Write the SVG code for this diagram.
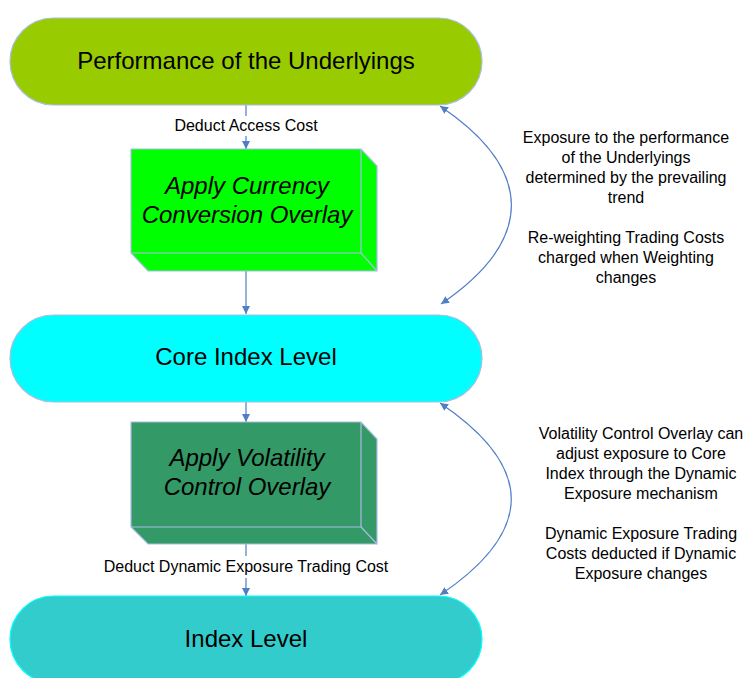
<svg xmlns="http://www.w3.org/2000/svg" width="748" height="678" viewBox="0 0 748 678">
<defs>
<style>
.t{font-family:"Liberation Sans",Arial,sans-serif;fill:#000;text-anchor:middle}
.big{font-size:24px}
.it{font-size:24px;font-style:italic}
.sm{font-size:16px}
.node{stroke:#a9bde3;stroke-width:1.2}
.conn{fill:none;stroke:#4f7ec4;stroke-width:1.2}
</style>
<marker id="ah" viewBox="0 0 10 10" refX="10" refY="5" markerWidth="8" markerHeight="8" markerUnits="userSpaceOnUse" orient="auto-start-reverse">
<path d="M0,0 L10,5 L0,10 Z" fill="#4f7ec4"/>
</marker>
</defs>
<rect width="748" height="678" fill="#fff"/>
<g id="connectors">
<line class="conn" x1="246" y1="105" x2="246" y2="116"/>
<line class="conn" x1="246" y1="136" x2="246" y2="149" marker-end="url(#ah)"/>
<line class="conn" x1="246" y1="271" x2="246" y2="314" marker-end="url(#ah)"/>
<line class="conn" x1="246" y1="402" x2="246" y2="422" marker-end="url(#ah)"/>
<line class="conn" x1="246" y1="544" x2="246" y2="556"/>
<line class="conn" x1="246" y1="578" x2="246" y2="596" marker-end="url(#ah)"/>
<path class="conn" d="M440,106 C535,170 535,240 441,304" marker-start="url(#ah)" marker-end="url(#ah)"/>
<path class="conn" d="M440,403 C535,467 535,531 440,595" marker-start="url(#ah)" marker-end="url(#ah)"/>
<text class="t sm" x="246" y="131">Deduct Access Cost</text>
<text class="t sm" x="246" y="572">Deduct Dynamic Exposure Trading Cost</text>
</g>
<g id="performance">
<rect class="node" x="10" y="18" width="472" height="87" rx="43.5" fill="#99cc00"/>
<text class="t big" x="246" y="69">Performance of the Underlyings</text>
</g>
<g id="currency">
<polygon class="node" points="131,149 361,149 377,166 377,271 148,271 131,253" fill="#00ff00"/>
<polyline class="node" points="131,253 361,253 361,149" fill="none"/>
<line class="node" x1="361" y1="253" x2="377" y2="271"/>
<text class="t it" x="247" y="194">Apply Currency</text>
<text class="t it" x="247" y="223">Conversion Overlay</text>
</g>
<g id="core">
<rect class="node" x="10" y="315" width="472" height="87" rx="43.5" fill="#00ffff" stroke="#c3c6ea"/>
<text class="t big" x="246" y="365">Core Index Level</text>
</g>
<g id="volatility">
<polygon class="node" points="131,422 361,422 377,439 377,544 148,544 131,527" fill="#339966"/>
<polyline class="node" points="131,527 361,527 361,422" fill="none"/>
<line class="node" x1="361" y1="527" x2="377" y2="544"/>
<text class="t it" x="247" y="466">Apply Volatility</text>
<text class="t it" x="247" y="495">Control Overlay</text>
</g>
<g id="index">
<rect x="10" y="596" width="472" height="87" rx="43.5" fill="#33cccc" stroke="#00ffff" stroke-width="1.2"/>
<text class="t big" x="246" y="647">Index Level</text>
</g>
<g id="note1">
<text class="t sm" x="626" y="143">Exposure to the performance</text>
<text class="t sm" x="626" y="163">of the Underlyings</text>
<text class="t sm" x="626" y="183">determined by the prevailing</text>
<text class="t sm" x="626" y="203">trend</text>
<text class="t sm" x="626" y="243">Re-weighting Trading Costs</text>
<text class="t sm" x="626" y="263">charged when Weighting</text>
<text class="t sm" x="626" y="283">changes</text>
</g>
<g id="note2">
<text class="t sm" x="641" y="439">Volatility Control Overlay can</text>
<text class="t sm" x="641" y="459">adjust exposure to Core</text>
<text class="t sm" x="641" y="479">Index through the Dynamic</text>
<text class="t sm" x="641" y="499">Exposure mechanism</text>
<text class="t sm" x="641" y="539">Dynamic Exposure Trading</text>
<text class="t sm" x="641" y="559">Costs deducted if Dynamic</text>
<text class="t sm" x="641" y="579">Exposure changes</text>
</g>
</svg>
